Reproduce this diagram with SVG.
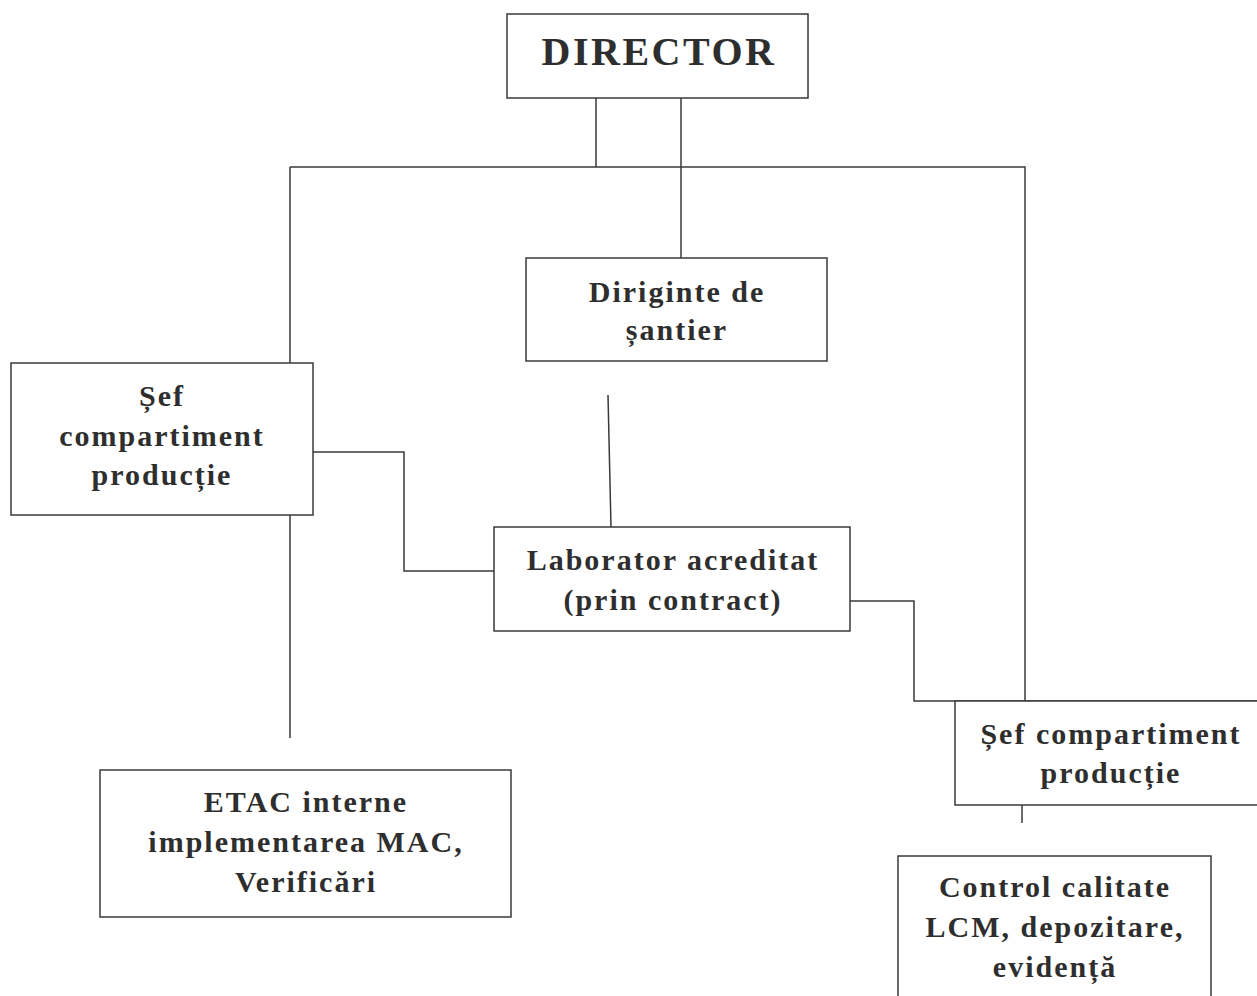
<svg xmlns="http://www.w3.org/2000/svg" width="1257" height="996" viewBox="0 0 1257 996">
<style>
.box{fill:#fff;stroke:#3a3a3a;stroke-width:1.5}
.ln{fill:none;stroke:#3a3a3a;stroke-width:1.5}
text{font-family:"Liberation Serif","Times New Roman",serif;font-weight:bold;fill:#2e2e2e;text-anchor:middle;font-size:30px;letter-spacing:2px}
.big{font-size:40px;letter-spacing:2.5px}
</style>
<rect width="1257" height="996" fill="#fff"/>
<g id="connectors">
<path class="ln" d="M596 98V167M681 98V258M290 167H1025V701M290 167V363M290 515V738"/>
<path class="ln" d="M313 452H404V571H494"/>
<path class="ln" d="M608 395L611 527"/>
<path class="ln" d="M850 601H914V701H1257"/>
<path class="ln" d="M1022 805V823"/>
</g>
<g id="director">
<rect class="box" x="507" y="14" width="301" height="84"/>
<text class="big" x="659" y="65">DIRECTOR</text>
</g>
<g id="diriginte">
<rect class="box" x="526" y="258" width="301" height="103"/>
<text x="677" y="302">Diriginte de</text>
<text x="677" y="340">șantier</text>
</g>
<g id="sef-left">
<rect class="box" x="11" y="363" width="302" height="152"/>
<text x="162" y="406">Șef</text>
<text x="162" y="446">compartiment</text>
<text x="162" y="485">producție</text>
</g>
<g id="laborator">
<rect class="box" x="494" y="527" width="356" height="104"/>
<text x="673" y="570">Laborator acreditat</text>
<text x="673" y="610">(prin contract)</text>
</g>
<g id="sef-right">
<path class="box" d="M1257 701H955V805H1257"/>
<text x="1111" y="744">Șef compartiment</text>
<text x="1111" y="783">producție</text>
</g>
<g id="etac">
<rect class="box" x="100" y="770" width="411" height="147"/>
<text x="306" y="812">ETAC interne</text>
<text x="306" y="852">implementarea MAC,</text>
<text x="306" y="892">Verificări</text>
</g>
<g id="control">
<path class="box" d="M898 1000V856H1211V1000"/>
<text x="1055" y="897">Control calitate</text>
<text x="1055" y="937">LCM, depozitare,</text>
<text x="1055" y="977">evidență</text>
</g>
</svg>
